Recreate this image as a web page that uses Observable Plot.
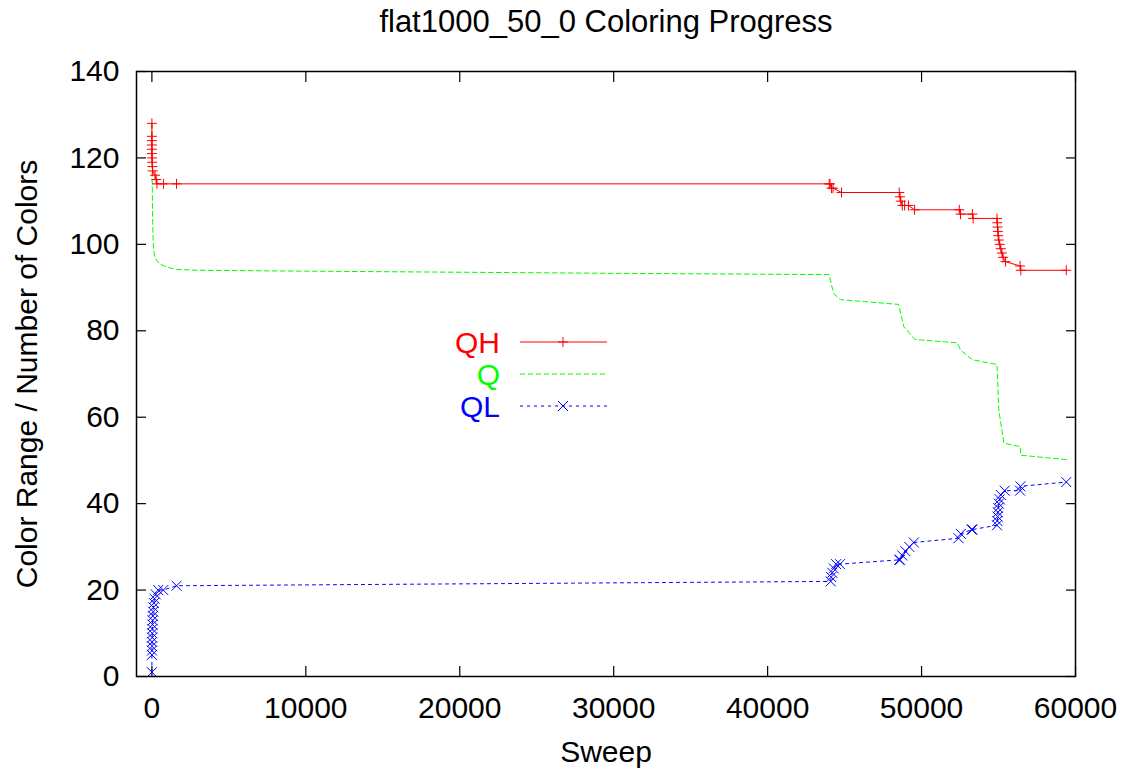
<!DOCTYPE html>
<html><head><meta charset="utf-8">
<script src="https://cdn.jsdelivr.net/npm/d3@7"></script>
<script src="https://cdn.jsdelivr.net/npm/@observablehq/plot@0.6"></script>
<style>
body{margin:0;background:#fff;}
#chart{position:relative;width:1125px;height:776px;font-family:"Liberation Sans",Arial,sans-serif;}
#legend{position:absolute;left:0;top:0;}
</style></head><body><div id="chart"></div>
<script>
// ---- data ----
const title = "flat1000_50_0 Coloring Progress";
const xLabel = "Sweep";
const yLabel = "Color Range / Number of Colors";
const xTicks = [0, 10000, 20000, 30000, 40000, 50000, 60000];
const yTicks = [0, 20, 40, 60, 80, 100, 120, 140];
const seriesNames = ["QH", "Q", "QL"];
const seriesColors = ["#ff0000", "#00ff00", "#0000ff"];

const qhSweep = [0, 0, 0, 0, 0, 5, 10, 20, 35, 50, 200, 280, 330, 750, 1600,
  44000, 44050, 44150, 44250, 44800,
  48550, 48600, 48650, 48750, 48900, 49150, 49550,
  52450, 52530, 53300, 53350,
  54900, 54920, 54940, 54960, 54980, 55020, 55080, 55150, 55220, 55300, 55450,
  56400, 56450, 59400];
const qhColors = [128, 125, 124, 123, 122, 121, 120, 119, 118, 117, 116, 115, 114, 114, 114,
  114, 114, 113, 113, 112,
  112, 111, 110, 109, 109, 109, 108,
  108, 107, 107, 106,
  106, 105, 104, 103, 102, 101, 100, 99, 98, 97, 96,
  95, 94, 94];

const qSweep = [0, 20, 50, 100, 200, 500, 1000, 1600, 3000, 10000, 30000, 44000,
  44130, 44300, 44730, 48520, 48640, 48850, 49070, 49550,
  52320, 52540, 53300, 54900, 55020, 55350, 56420, 56440, 59400];
const qColors = [128, 115, 105, 99, 96.8, 95.5, 94.7, 94.2, 94, 93.8, 93.3, 93.0,
  90.9, 88.6, 87.2, 86.1, 84, 80.9, 80.1, 78,
  77.2, 75.5, 73.3, 72.2, 61.6, 54, 53.2, 51.2, 50.2];

const qlSweep = [0, 0, 5, 10, 15, 20, 25, 30, 40, 50, 60, 80, 100, 130, 170, 250, 410, 740, 1600,
  44100, 44130, 44200, 44300, 44450, 44700,
  48550, 48600, 48750, 48950, 49200, 49500,
  52400, 52550, 53250, 53300,
  54900, 54920, 54940, 54960, 54980, 55020, 55080, 55150, 55400,
  56400, 56420, 59400];
const qlColors = [1, 5, 6, 7, 8, 9, 10, 11, 12, 13, 14, 15, 16, 17, 18, 19, 20, 20, 21,
  22, 23, 24, 25, 26, 26,
  27, 27, 28, 29, 30, 31,
  32, 33, 34, 34,
  35, 36, 37, 38, 39, 40, 41, 42, 43,
  43, 44, 45];

// ---- build ----
const toRows = (xs, ys) => xs.map((x, i) => ({x, y: ys[i]}));
const qh = toRows(qhSweep, qhColors);
const q = toRows(qSweep, qColors);
const ql = toRows(qlSweep, qlColors);

const plusSym = {draw(ctx) { const r = 5; ctx.moveTo(-r, 0); ctx.lineTo(r, 0); ctx.moveTo(0, -r); ctx.lineTo(0, r); }};
const timesSym = {draw(ctx) { const r = 5; ctx.moveTo(-r, -r); ctx.lineTo(r, r); ctx.moveTo(-r, r); ctx.lineTo(r, -r); }};

const FS = 30;
const chart = Plot.plot({
  width: 1125, height: 776,
  marginLeft: 136, marginRight: 50, marginTop: 71, marginBottom: 100,
  style: {fontFamily: "'Liberation Sans', Arial, sans-serif", fontSize: FS + "px", color: "#000", background: "#fff"},
  x: {domain: [-1000, 60000], label: null},
  y: {domain: [0, 140], label: null},
  marks: [
    Plot.axisX(xTicks, {anchor: "bottom", tickSize: 10, dy: -10, fill: "none", strokeWidth: 1.2}),
    Plot.axisX(xTicks, {anchor: "top", tickSize: 10, dy: 10, fill: "none", strokeWidth: 1.2}),
    Plot.axisY(yTicks, {anchor: "left", tickSize: 10, dx: 10, fill: "none", strokeWidth: 1.2}),
    Plot.axisY(yTicks, {anchor: "right", tickSize: 10, dx: -10, fill: "none", strokeWidth: 1.2}),
    Plot.axisX(xTicks, {anchor: "bottom", tickSize: 0, tickPadding: 20, fontSize: FS, label: null, tickFormat: d => String(d)}),
    Plot.axisY(yTicks, {anchor: "left", tickSize: 0, tickPadding: 17, fontSize: FS, label: null, tickFormat: d => String(d)}),
    Plot.line(q, {x: "x", y: "y", stroke: seriesColors[1], strokeWidth: 1, strokeDasharray: "5,3"}),
    Plot.line(ql, {x: "x", y: "y", stroke: seriesColors[2], strokeWidth: 1, strokeDasharray: "3,4"}),
    Plot.dot(ql, {x: "x", y: "y", symbol: timesSym, fill: "none", stroke: seriesColors[2], strokeWidth: 1}),
    Plot.line(qh, {x: "x", y: "y", stroke: seriesColors[0], strokeWidth: 1}),
    Plot.dot(qh, {x: "x", y: "y", symbol: plusSym, fill: "none", stroke: seriesColors[0], strokeWidth: 1}),
    Plot.frame({stroke: "#000", strokeWidth: 1.5}),
    Plot.text([title], {frameAnchor: "top", dy: -49, fontSize: 31, lineAnchor: "middle"}),
    Plot.text([xLabel], {frameAnchor: "bottom", dy: 76, fontSize: FS, lineAnchor: "middle"}),
    Plot.text([yLabel], {frameAnchor: "left", dx: -109, rotate: -90, textAnchor: "middle", fontSize: FS, lineAnchor: "middle"})
  ]
});
const host = document.getElementById("chart");
host.appendChild(chart);

// legend overlay
const leg = d3.select(host).append("svg").attr("id", "legend").attr("width", 1125).attr("height", 776)
  .style("font-family", "'Liberation Sans', Arial, sans-serif");
const legY = [342, 374, 406];
const dashes = [null, "5,3", "3,4"];
const syms = [plusSym, null, timesSym];
seriesNames.forEach((name, i) => {
  const g = leg.append("g");
  g.append("text").attr("x", 500).attr("y", legY[i]).attr("dy", "0.35em").attr("text-anchor", "end")
    .attr("font-size", FS).attr("fill", seriesColors[i]).text(name);
  g.append("line").attr("x1", 520).attr("x2", 607).attr("y1", legY[i]).attr("y2", legY[i])
    .attr("stroke", seriesColors[i]).attr("stroke-width", 1).attr("stroke-dasharray", dashes[i]);
  if (syms[i]) {
    const p = d3.path(); syms[i].draw(p);
    g.append("path").attr("d", p.toString()).attr("transform", `translate(563,${legY[i]})`)
      .attr("fill", "none").attr("stroke", seriesColors[i]).attr("stroke-width", 1);
  }
});
</script></body></html>
